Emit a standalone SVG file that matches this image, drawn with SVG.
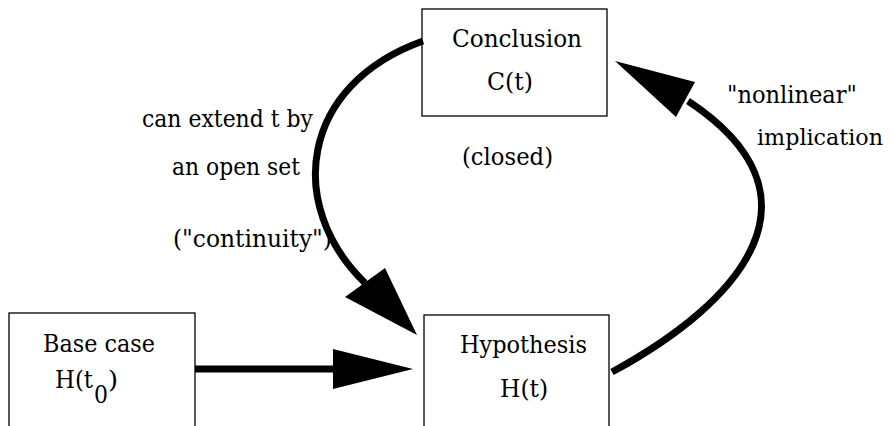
<svg xmlns="http://www.w3.org/2000/svg" width="892" height="426" viewBox="0 0 892 426">
<style>
.box{fill:#fff;stroke:#000;stroke-width:1.3}
.t{font-family:'DejaVu Serif','Liberation Serif',serif;font-size:25px;fill:#000}
.edge{fill:none;stroke:#000;stroke-width:7}
.head{fill:#000;stroke:none}
</style>
<g id="base">
<rect class="box" x="9" y="313" width="186" height="130"/>
<text class="t" x="43" y="352" textLength="112" lengthAdjust="spacingAndGlyphs">Base case</text>
<text class="t" x="55" y="388" textLength="38" lengthAdjust="spacingAndGlyphs">H(t</text>
<text class="t" x="94" y="403" textLength="14" lengthAdjust="spacingAndGlyphs">0</text>
<text class="t" x="108" y="388" textLength="10" lengthAdjust="spacingAndGlyphs">)</text>
</g>
<g id="hypothesis">
<rect class="box" x="424" y="315" width="185" height="130"/>
<text class="t" x="460" y="353" textLength="127" lengthAdjust="spacingAndGlyphs">Hypothesis</text>
<text class="t" x="500" y="397" textLength="48" lengthAdjust="spacingAndGlyphs">H(t)</text>
</g>
<g id="conclusion">
<rect class="box" x="422" y="9" width="185" height="107"/>
<text class="t" x="452" y="47" textLength="130" lengthAdjust="spacingAndGlyphs">Conclusion</text>
<text class="t" x="487" y="90" textLength="46" lengthAdjust="spacingAndGlyphs">C(t)</text>
</g>
<g id="labels">
<text class="t" x="462" y="165" textLength="91" lengthAdjust="spacingAndGlyphs">(closed)</text>
<text class="t" x="142" y="127" textLength="171" lengthAdjust="spacingAndGlyphs">can extend t by</text>
<text class="t" x="172" y="175" textLength="128" lengthAdjust="spacingAndGlyphs">an open set</text>
<text class="t" x="173" y="247" textLength="159" lengthAdjust="spacingAndGlyphs">("continuity")</text>
<text class="t" x="727" y="103" textLength="130" lengthAdjust="spacingAndGlyphs">"nonlinear"</text>
<text class="t" x="757" y="145" font-size="23" style="font-size:23px" textLength="126" lengthAdjust="spacingAndGlyphs">implication</text>
</g>
<g id="connectors">
<path class="edge" d="M195,369 L335,369"/>
<polygon class="head" points="333,349 413,369 333,389"/>
<path class="edge" d="M423,41 C300,85 285,205 365,283"/>
<polygon class="head" points="417,335 345,297 385,268"/>
<path class="edge" d="M612,372 C745,300 830,195 688,101"/>
<polygon class="head" points="615,61 695,82 676,117"/>
</g>
</svg>
